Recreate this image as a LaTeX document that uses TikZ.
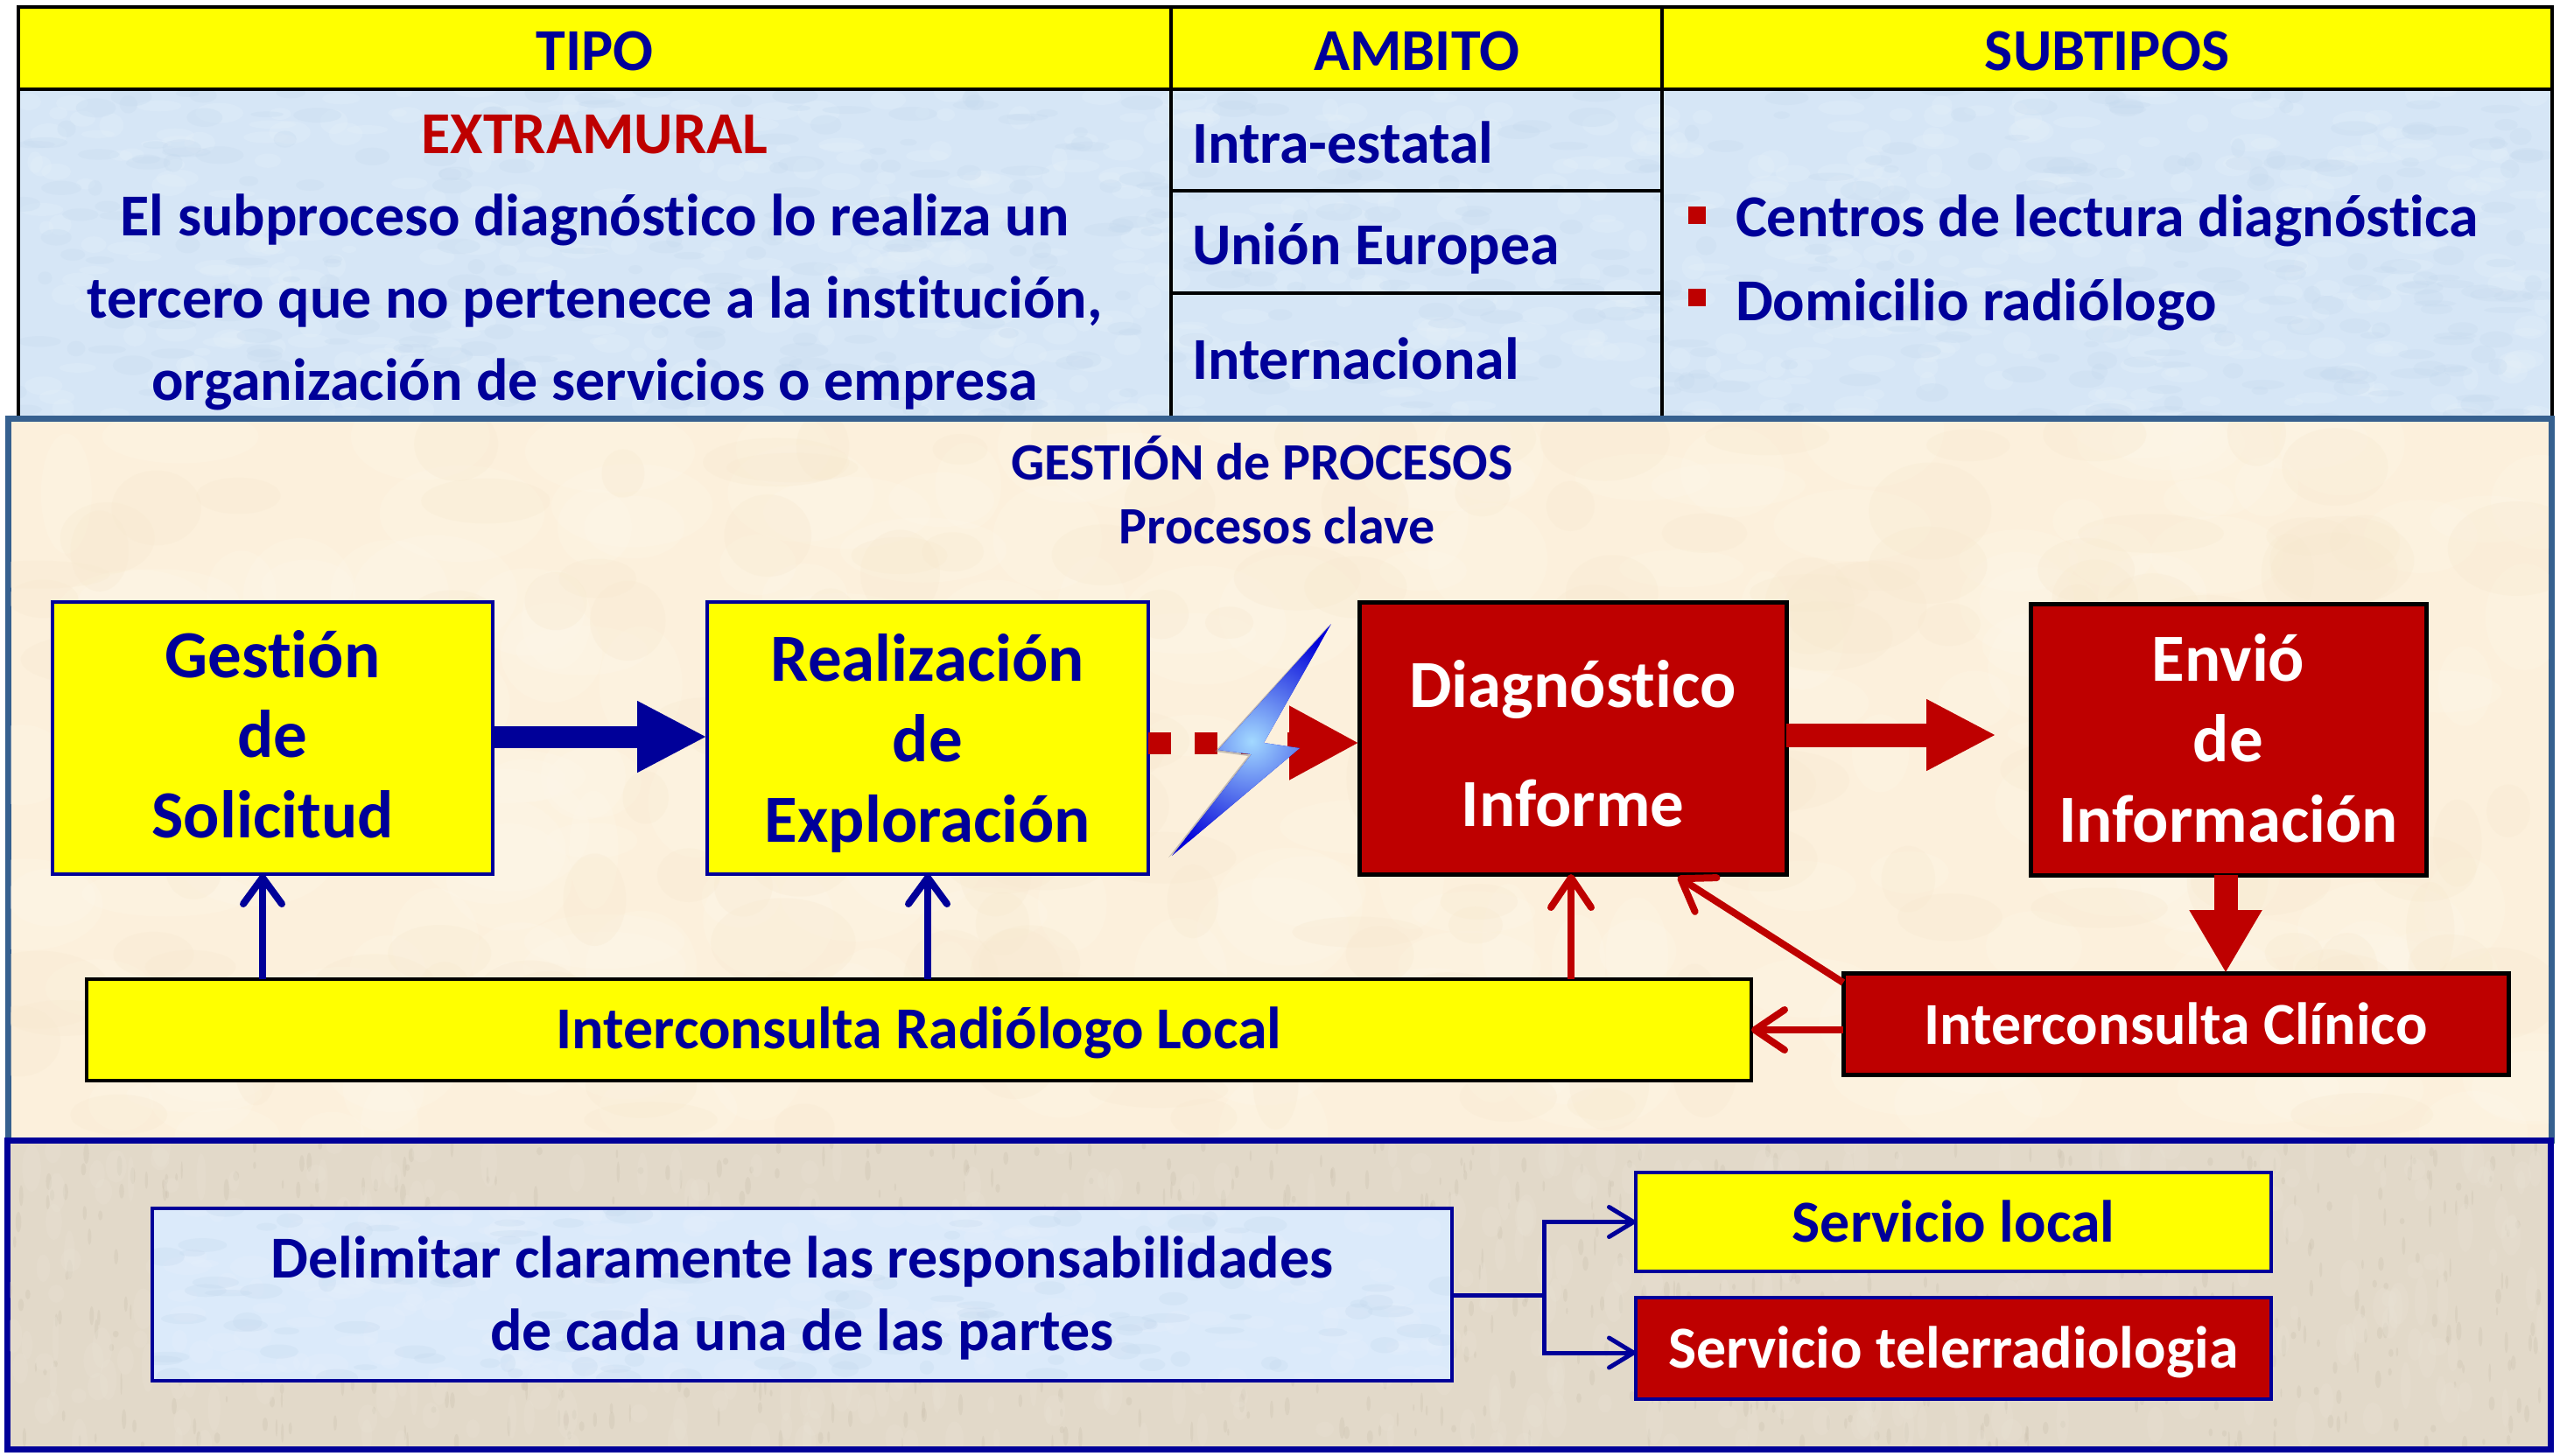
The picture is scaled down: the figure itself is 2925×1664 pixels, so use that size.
\documentclass[tikz,border=0pt]{standalone}
\usepackage{fontspec}
\setmainfont{Carlito}[Ligatures=CommonOff]
\usetikzlibrary{arrows.meta}
\definecolor{navy}{HTML}{000099}
\definecolor{dred}{HTML}{BE0000}
\definecolor{yel}{HTML}{FFFF00}
\definecolor{cellblue}{HTML}{D6E6F6}
\definecolor{celllight}{HTML}{E6F0FA}
\definecolor{celldark}{HTML}{C6DAEE}
\definecolor{delimblue}{HTML}{DBEAFA}
\definecolor{cream}{HTML}{FCF0DC}
\definecolor{creamlight}{HTML}{FFF7E9}
\definecolor{creamdark}{HTML}{F7E9CF}
\definecolor{tan}{HTML}{E2D9C9}
\definecolor{tanlight}{HTML}{E9E2D5}
\definecolor{tandark}{HTML}{CABFAD}
\definecolor{steel}{HTML}{36608F}
\newcommand{\ft}[2]{\fontsize{#1pt}{#2pt}\selectfont\bfseries}
% soft background mottling: x0 y0 x1 y1 count colour rx ry
\newcommand{\mottle}[8]{%
  \begin{scope}
  \clip (#1,#2) rectangle (#3,#4);
  \foreach \i in {1,...,#5}{%
    \pgfmathsetmacro\mtx{#1+rnd*(#3-#1)}%
    \pgfmathsetmacro\mty{#2+rnd*(#4-#2)}%
    \pgfmathsetmacro\mtr{#7*(.4+rnd)}%
    \pgfmathsetmacro\mts{#8*(.4+rnd)}%
    \fill[#6,opacity=.3] (\mtx,\mty) ellipse [x radius=\mtr pt,y radius=\mts pt];
  }
  \end{scope}}
\tikzset{
  x=1pt,y=-1pt,
  every node/.style={inner sep=0pt,outer sep=0pt},
  cell/.style={draw=black,line width=4pt},
  head/.style={cell,fill=yel,text=navy,font=\ft{68}{70}},
  amb/.style={cell,minimum width=561pt,text width=513pt,inner xsep=24pt,align=flush left,text=navy,text depth=0pt,font=\ft{68}{70}},
  ybox/.style={draw=navy,line width=4pt,fill=yel,text=navy,align=center},
  rbox/.style={draw=black,line width=5pt,fill=dred,text=white,align=center},
  barbred/.style={draw=dred,line width=8pt,-{Straight Barb[length=34pt,width=46pt,line width=8pt,round]}},
  barbblue/.style={draw=navy,line width=8pt,-{Straight Barb[length=30pt,width=44pt,line width=8pt,round]}},
  barbthin/.style={draw=navy,line width=5pt,-{Straight Barb[length=28pt,width=34pt,line width=5pt,round]}},
}
\begin{document}
\begin{tikzpicture}
\pgfmathsetseed{4711}
\useasboundingbox (0,0) rectangle (2925,1664);
\fill[white] (0,0) rectangle (2925,1664);
% table backgrounds
\fill[cellblue] (21,102) rectangle (2916,478);
\mottle{21}{102}{2916}{478}{700}{celllight}{20}{10}
\mottle{21}{102}{2916}{478}{500}{celldark}{20}{8}
% table
\node[head,minimum width=1317pt,minimum height=94pt,text height=52pt,text depth=0pt] (hT) at (679.5,55) {TIPO};
\node[head,minimum width=561pt,minimum height=94pt,text height=52pt,text depth=0pt] (hA) at (1618.5,55) {AMBITO};
\node[head,minimum width=1017pt,minimum height=94pt,text height=52pt,text depth=0pt] (hS) at (2407.5,55) {SUBTIPOS};
\node[cell,minimum width=1317pt,minimum height=376pt,align=center,text=navy,text height=334pt,text depth=0pt,
  font=\ft{68}{94}] (tipo) at (679.5,290)
  {\textcolor{dred}{EXTRAMURAL}\\El subproceso diagnóstico lo realiza un\\tercero que no pertenece a la institución,\\organización de servicios o empresa};
\node[amb,minimum height=116pt,text height=52pt] (a1) at (1618.5,160) {Intra-estatal};
\node[amb,minimum height=117pt,text height=51pt] (a2) at (1618.5,276.5) {Unión Europea};
\node[amb,minimum height=143pt,text height=53pt] (a3) at (1618.5,406.5) {Internacional};
\node[cell,minimum width=1017pt,minimum height=376pt,text width=849pt,inner xsep=84pt,align=flush left,text=navy,text height=0pt,text depth=40pt,
  font=\ft{68}{96}] (sub) at (2407.5,290)
  {Centros de lectura diagnóstica\\Domicilio radiólogo};
\node[fill=dred,minimum size=20pt] (b1) at (1939,246) {};
\node[fill=dred,minimum size=20pt] (b2) at (1939,340) {};
% panels
\node[draw=steel,line width=7pt,fill=cream,minimum width=2906pt,minimum height=825pt] (p1) at (1462,890.5) {};
\mottle{12}{482}{2912}{1299}{220}{creamlight}{70}{50}
\mottle{12}{482}{2912}{1299}{180}{creamdark}{60}{40}
\node[draw=navy,line width=7pt,fill=tan,minimum width=2906pt,minimum height=353pt] (p2) at (1461,1479.5) {};
\mottle{11}{1307}{2910}{1652}{900}{tandark}{2.5}{9}
\mottle{11}{1307}{2910}{1652}{500}{tanlight}{9}{20}
\node[text=navy,align=center,text height=0pt,text depth=0pt,anchor=base,font=\ft{60}{73}] (title) at (1442,621) {GESTIÓN de PROCESOS\\\hspace*{34pt}Procesos clave};
% process boxes
\node[ybox,minimum width=503pt,minimum height=311pt,font=\ft{77}{91.5},text height=227pt,text depth=0pt] (gest) at (311.5,843.5) {Gestión\\de\\Solicitud};
\node[ybox,minimum width=504pt,minimum height=311pt,font=\ft{77}{92},text height=237pt,text depth=0pt] (real) at (1060,843.5) {Realización\\de\\Exploración};
\node[rbox,minimum width=488pt,minimum height=311pt,font=\ft{77}{136},text height=201pt,text depth=0pt] (diag) at (1797,843.5) {Diagnóstico\\Informe};
\node[rbox,minimum width=452pt,minimum height=310pt,font=\ft{77}{92},text height=234pt,text depth=0pt] (envio) at (2546,845) {Envió\\de\\Información};
\node[rbox,minimum width=760pt,minimum height=116pt,font=\ft{68}{70},text height=46pt,text depth=0pt] (clin) at (2486,1170) {Interconsulta Clínico};
\node[draw=black,line width=4pt,fill=yel,text=navy,minimum width=1902pt,minimum height=116.5pt,font=\ft{68}{70},text height=42pt,text depth=0pt] (rad) at (1050,1177) {Interconsulta Radiólogo Local};
% lower panel boxes
\fill[delimblue] (174,1381) rectangle (1659,1578);
\mottle{174}{1381}{1659}{1578}{240}{celllight}{20}{10}
\mottle{174}{1381}{1659}{1578}{140}{celldark}{20}{8}
\node[draw=navy,line width=4pt,text=navy,align=center,minimum width=1485pt,minimum height=197pt,font=\ft{68}{83},text height=128pt,text depth=0pt] (delim) at (916.5,1479.5) {Delimitar claramente las responsabilidades\\de cada una de las partes};
\node[ybox,minimum width=726pt,minimum height=113pt,font=\ft{68}{70},text height=45pt,text depth=0pt] (sloc) at (2232,1396.5) {Servicio local};
\node[draw=navy,line width=4pt,fill=dred,text=white,minimum width=726pt,minimum height=116pt,font=\ft{68}{70},text height=44pt,text depth=0pt] (tele) at (2232,1541) {Servicio telerradiologia};
% big arrows
\draw[navy,line width=25pt,-{Triangle[length=80pt,width=76pt]}] ([yshift=1.5pt]gest.east) -- ([yshift=1.5pt]real.west);
\draw[dred,line width=25pt,dash pattern=on 26pt off 27pt,-{Triangle[length=80pt,width=79pt]}] ([yshift=-5.5pt]real.east) -- ([yshift=-5.5pt]diag.west);
\coordinate (rtip) at (2281,840);
\draw[dred,line width=27pt,-{Triangle[length=80pt,width=76pt]}] (diag.east |- rtip) -- (rtip);
\draw[dred,line width=27pt,-{Triangle[length=72pt,width=78pt]}] ([xshift=-3pt]envio.south) -- ([xshift=57pt]clin.north);
% thin arrows
\draw[barbblue] ([xshift=-750pt]rad.north) -- ([xshift=-11.5pt]gest.south);
\draw[barbblue] ([xshift=10pt]rad.north) -- (real.south);
\draw[barbred] ([xshift=745pt]rad.north) -- ([xshift=-2pt]diag.south);
\draw[barbred] ([yshift=-11pt]clin.north west) -- ([xshift=-124pt,yshift=-3pt]diag.south east);
\draw[barbred] ([yshift=-7pt]clin.west) -- ([yshift=-7pt]clin.west -| rad.east);
% fork
\coordinate (fork) at (1764,1480.5);
\coordinate (fork2) at (1764,1546);
\draw[navy,line width=5pt] (delim.east |- fork) -- (fork);
\draw[barbthin] (fork) |- (sloc.west);
\draw[barbthin] (fork) |- (fork2 -| tele.west);
% lightning
\fill[black!50,opacity=.45] (1518,715) -- (1388,859) -- (1426,864) -- (1335,980) -- (1481,857) -- (1440,851) -- cycle;
\begin{scope}
\clip (1521,713) -- (1392,857) -- (1430,862) -- (1339,978) -- (1485,855) -- (1444,849) -- cycle;
\fill[blue!85!black] (1300,700) rectangle (1540,990);
\shade[inner color=cyan!25!white!85!blue,outer color=blue!85!black] (1430,847) circle (135pt);
\end{scope}
\end{tikzpicture}
\end{document}
